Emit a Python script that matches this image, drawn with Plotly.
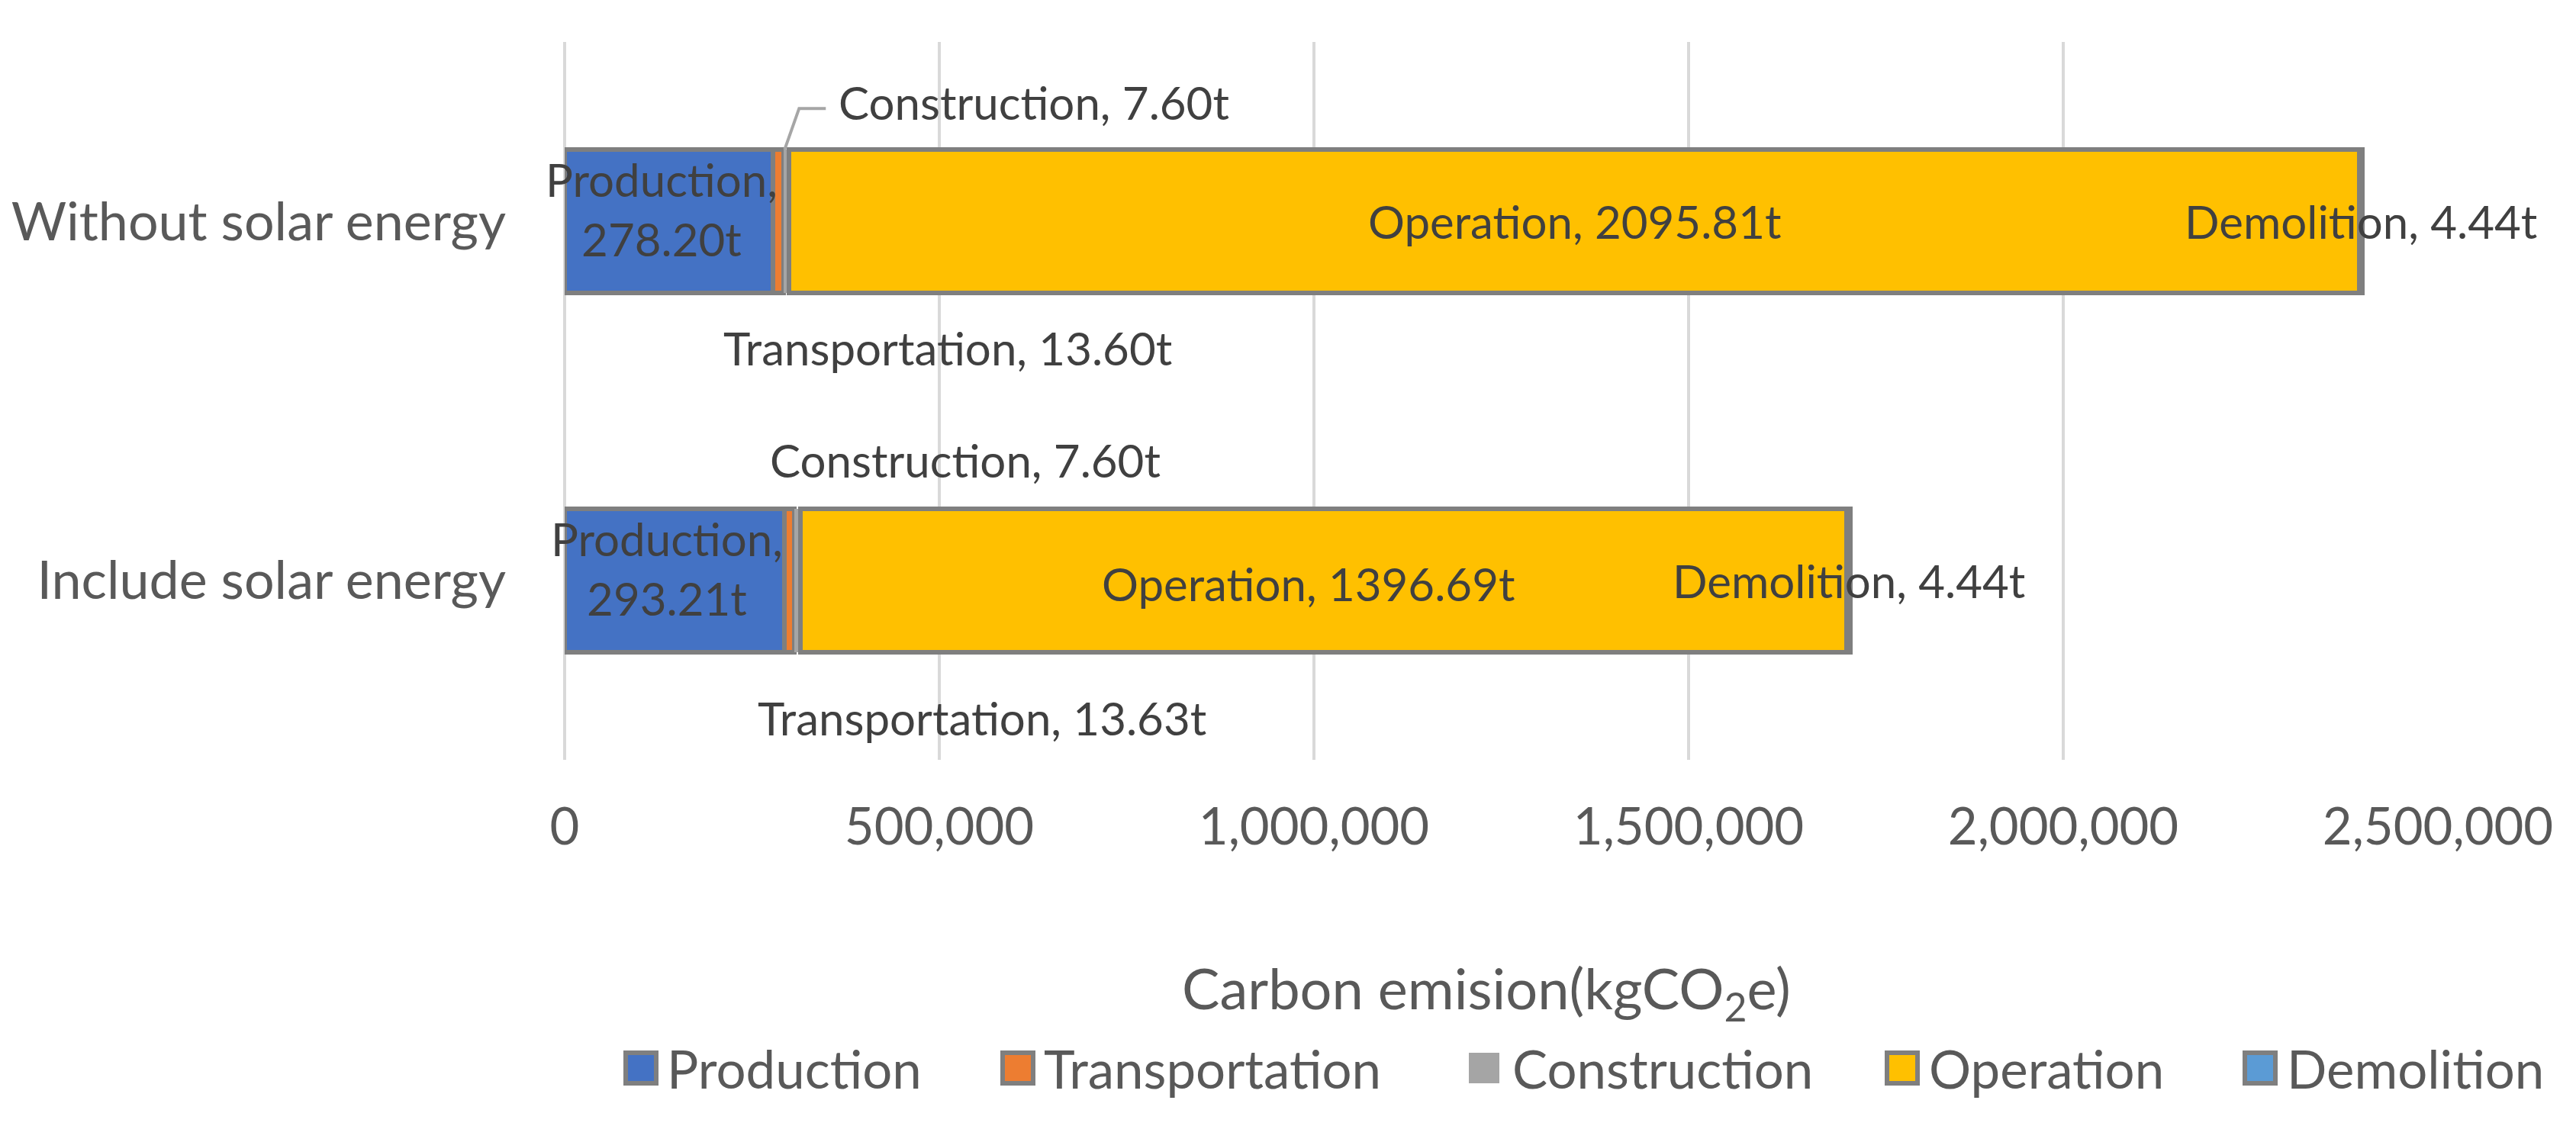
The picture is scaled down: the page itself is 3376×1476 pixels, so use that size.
import plotly.graph_objects as go

# ---------------- data ----------------
categories = ["Without solar energy", "Include solar energy"]
stages = ["Production", "Transportation", "Construction", "Operation", "Demolition"]
production = [278200, 293210]       # kgCO2e
transportation = [13600, 13630]
construction = [7600, 7600]
operation = [2095810, 1396690]
demolition = [4440, 4440]
x_ticks = [0, 500000, 1000000, 1500000, 2000000, 2500000]
axis_title = "Carbon emision(kgCO<sub>2</sub>e)"

series = [production, transportation, construction, operation, demolition]
colors = ["#4472C4", "#ED7D31", "#A5A5A5", "#FFC000", "#5B9BD5"]
outline = ["#7F7F7F", "#7F7F7F", "rgba(0,0,0,0)", "#7F7F7F", "#7F7F7F"]

# ---------------- layout constants ----------------
W, H = 3376, 1476
L, R, T, B = 732, 189, 47, 488
PW, PH = W - L - R, H - T - B
FONT = "Lato, 'Open Sans', sans-serif"
AXIS_GRAY = "#595959"
LABEL_GRAY = "#404040"
BAR_W = 0.4

def px_x(p):  # pixel -> paper x
    return (p - L) / PW

def px_y(p):  # pixel -> paper y
    return (H - B - p) / PH

cat_order = categories[::-1]  # bottom to top
cat_idx = {c: cat_order.index(c) for c in categories}

fig = go.Figure()
for name, vals, col, oc in zip(stages, series, colors, outline):
    fig.add_trace(go.Bar(
        y=categories, x=vals, orientation="h", name=name, width=BAR_W,
        marker=dict(color=col, line=dict(color=oc, width=6)),
        showlegend=False, hoverinfo="x+name",
    ))

# ---------------- data labels ----------------
ann = []
shapes = []
label_font = dict(family=FONT, size=60, color=LABEL_GRAY)
# per-stage label offsets (pixels) for each category
xshift = {"Transportation": [222, 252], "Construction": [325, 220], "Operation": [0, -20]}
yshift = {"Transportation": [-166, -180], "Construction": [156, 158], "Operation": [0, -4]}

for ci, cat in enumerate(categories):
    base = 0
    for si, (name, vals) in enumerate(zip(stages, series)):
        v = vals[ci]
        center = base + v / 2
        tons = v / 1000
        if name == "Production":
            text = f"{name},<br>{tons:.2f}t"
        else:
            text = f"{name}, {tons:.2f}t"
        a = dict(x=center, y=cat, xref="x", yref="y", text=text, showarrow=False,
                 font=label_font, xanchor="center", yanchor="middle")
        if name in xshift:
            a["xshift"] = xshift[name][ci]
            a["yshift"] = yshift[name][ci]
        if name == "Production":
            a["yshift"] = 16
            a["xshift"] = -10
        ann.append(a)
        if name == "Construction" and ci == 0:
            shapes.append(dict(
                type="path", xref="x", yref="y", xsizemode="pixel", ysizemode="pixel",
                xanchor=center, yanchor=cat_idx[cat] + BAR_W / 2,
                path="M -2,0 L 17,54 L 52,54",
                line=dict(color="#A6A6A6", width=4),
            ))
        base += v

# ---------------- axis title ----------------
ann.append(dict(x=px_x(1940), y=px_y(1292), xref="paper", yref="paper", text=axis_title,
                showarrow=False, font=dict(family=FONT, size=74, color=AXIS_GRAY),
                xanchor="center", yanchor="middle"))

# ---------------- legend (drawn) ----------------
swatch_x = [809, 1303, 1914, 2462, 2931]
text_x = [864, 1358, 1972, 2518, 2987]
leg_y = 1392
sw = 46
for name, col, oc, sx, tx in zip(stages, colors, outline, swatch_x, text_x):
    lw = 6 if name != "Construction" else 0
    shapes.append(dict(type="rect", xref="paper", yref="paper",
                       x0=px_x(sx + 3), x1=px_x(sx + sw - 3),
                       y0=px_y(leg_y - sw / 2 + 3), y1=px_y(leg_y + sw / 2 - 3),
                       fillcolor=col, line=dict(color=oc, width=lw)))
    ann.append(dict(x=px_x(tx), y=px_y(leg_y), xref="paper", yref="paper", text=name,
                    showarrow=False, font=dict(family=FONT, size=69, color=AXIS_GRAY),
                    xanchor="left", yanchor="middle"))

fig.update_layout(
    barmode="stack",
    width=W, height=H,
    margin=dict(l=L, r=R, t=T, b=B, pad=0, autoexpand=False),
    paper_bgcolor="white", plot_bgcolor="white",
    showlegend=False,
    font=dict(family=FONT, color=AXIS_GRAY),
    annotations=ann,
    shapes=shapes,
    xaxis=dict(
        range=[0, 2500000], tickvals=x_ticks, tickformat=",", automargin=False,
        showgrid=True, gridcolor="#D9D9D9", gridwidth=4,
        zeroline=True, zerolinecolor="#D9D9D9", zerolinewidth=4,
        showline=False, ticks="outside", ticklen=30, tickcolor="rgba(0,0,0,0)",
        tickfont=dict(family=FONT, size=67, color=AXIS_GRAY),
    ),
    yaxis=dict(
        categoryorder="array", categoryarray=cat_order, range=[-0.5, 1.5],
        automargin=False,
        showgrid=False, zeroline=False, showline=False,
        ticks="outside", ticklen=62, tickcolor="rgba(0,0,0,0)",
        tickfont=dict(family=FONT, size=70, color=AXIS_GRAY),
    ),
)

fig.write_html("out.html")
